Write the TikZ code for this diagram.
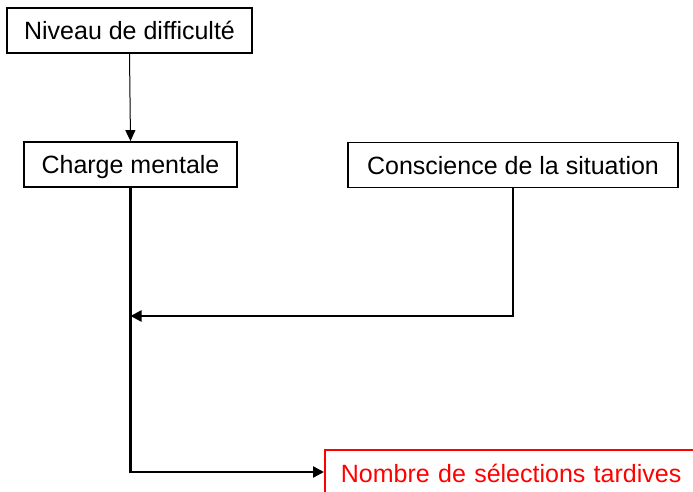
\documentclass[tikz,border=0pt]{standalone}
\usepackage{fontspec}
\setmainfont{Liberation Sans}
\usetikzlibrary{arrows.meta,calc}
\begin{document}
\begin{tikzpicture}[x=1pt,y=-1pt,
  box/.style={draw=black,line width=1.8pt,inner sep=0pt,minimum height=45pt,text height=20pt,text depth=2pt,font=\fontsize{25}{30}\selectfont},
  thinarrow/.style={line width=1pt,-{Triangle[length=11pt,width=10pt]}},
  thickarrow/.style={line width=2.4pt,-{Triangle[length=11pt,width=11pt]}}]
\useasboundingbox (0,0) rectangle (693,492);
\clip (0,0) rectangle (693,492);
\fill[white] (0,0) rectangle (693,492);
\node[box,minimum width=245pt] (niv) at (129.5,30.5) {Niveau de difficulté};
\node[box,minimum width=213pt] (cm) at (130.5,164.5) {Charge mentale};
\node[box,minimum width=330pt] (cs) at (513,165) {Conscience de la situation};
\node[draw=red,text=red,line width=1.8pt,anchor=north west,inner xsep=16pt,inner ysep=0pt,
  text height=33pt,text depth=40pt,text width=380pt,align=left,
  font=\fontsize{25}{30}\selectfont] (nb) at (324,449) {Nombre de sélections tardives};
\coordinate (nbin) at ($(nb.north west)+(0,23)$);
\coordinate (join) at (cm.south |- 0,316);
\draw[thinarrow] (niv.south) -- (cm.north);
\draw[thickarrow] (cm.south) |- (nbin);
\draw[thickarrow] (cs.south) |- (join);
\end{tikzpicture}
\end{document}
